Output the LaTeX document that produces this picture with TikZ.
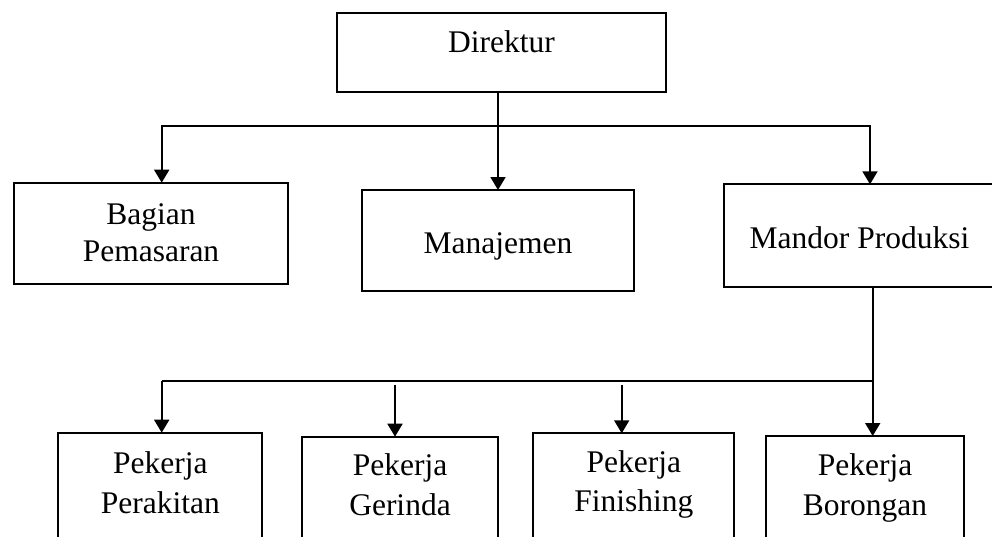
\documentclass[tikz,border=0pt]{standalone}
\usepackage{fontspec}
\setmainfont{Liberation Serif}
\usetikzlibrary{arrows.meta}

\begin{document}
\begin{tikzpicture}[x=1pt,y=-1pt,
    orgbox/.style={rectangle, draw, line width=1.8pt, inner sep=0pt, outer sep=0pt, anchor=north west, font={\fontsize{31.5}{40}\selectfont}},
    orgline/.style={line width=1.8pt},
    orgarrow/.style={line width=1.8pt, -{Triangle[width=15pt,length=13pt]}},
    orgboth/.style={line width=1.8pt, {Triangle[width=15pt,length=13pt]}-{Triangle[width=15pt,length=13pt]}}]
  \useasboundingbox (0,0) rectangle (992,536);
  \clip (0,0) rectangle (992,536);

  % Top level
  \node[orgbox, minimum width=329pt, text height=39.6pt, text depth=39.7pt] (direktur) at (337,12.7) {Direktur};

  % Second level
  \node[orgbox, minimum width=274pt, text height=41.3pt, text depth=60pt] (pemasaran) at (14,182.7) {\begin{tabular}[t]{@{}c@{}}Bagian\\[-3pt]Pemasaran\end{tabular}};
  \node[orgbox, minimum width=272.6pt, text height=63.3pt, text depth=37.4pt] (manajemen) at (361.7,190) {Manajemen};
  \node[orgbox, minimum width=271pt, text height=64.4pt, text depth=38pt] (mandor) at (724,184.3) {Mandor Produksi};

  % Workers
  \node[orgbox, minimum width=204pt, text height=40.6pt, text depth=110pt] (perakitan) at (58.3,432.7) {\begin{tabular}[t]{@{}c@{}}Pekerja\\Perakitan\end{tabular}};
  \node[orgbox, minimum width=196.6pt, text height=38.3pt, text depth=110pt] (gerinda) at (301.7,436.7) {\begin{tabular}[t]{@{}c@{}}Pekerja\\Gerinda\end{tabular}};
  \node[orgbox, minimum width=201pt, text height=39.4pt, text depth=110pt] (finishing) at (533.3,433.3) {\begin{tabular}[t]{@{}c@{}}Pekerja\\[-1pt]Finishing\end{tabular}};
  \node[orgbox, minimum width=198.6pt, text height=39pt, text depth=110pt] (borongan) at (765.7,436) {\begin{tabular}[t]{@{}c@{}}Pekerja\\Borongan\end{tabular}};

  % Lines from the director
  \coordinate (topleft) at (161.7,126);
  \coordinate (topright) at (870,126);
  \draw[orgboth] (topleft |- pemasaran.north) -- (topleft) -- (topright) -- (topright |- mandor.north);
  \draw[orgarrow] (direktur.south -| manajemen.north) -- (manajemen.north);

  % Lines from the foreman
  \coordinate (lowleft) at (161.7,381);
  \coordinate (lowright) at (872.7,381);
  \coordinate (lowgerinda) at (395,385);
  \coordinate (lowfinishing) at (621.7,385);
  \draw[orgarrow] (lowright |- mandor.south) -- (lowright |- borongan.north);
  \draw[orgline] (lowright) -- (lowleft);
  \draw[orgarrow] (lowleft) -- (lowleft |- perakitan.north);
  \draw[orgarrow] (lowgerinda) -- (lowgerinda |- gerinda.north);
  \draw[orgarrow] (lowfinishing) -- (lowfinishing |- finishing.north);
\end{tikzpicture}
\end{document}
